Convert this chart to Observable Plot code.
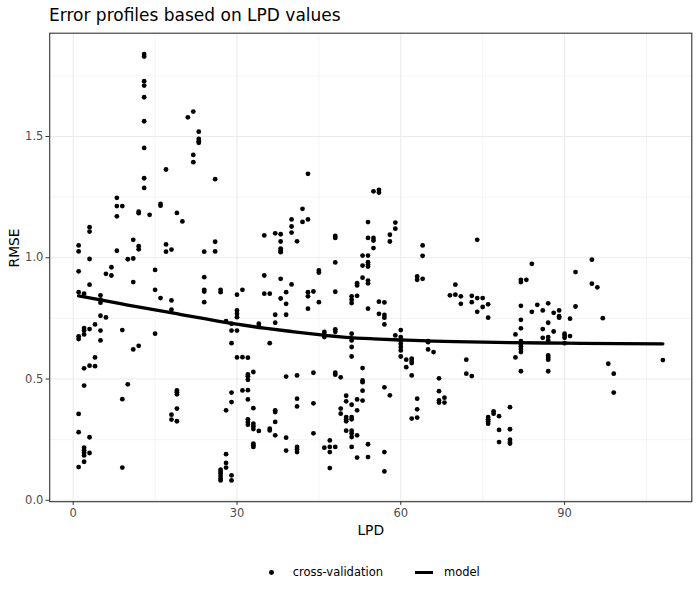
<!DOCTYPE html>
<html><head><meta charset="utf-8">
<script src="https://cdn.jsdelivr.net/npm/d3@7"></script>
<script src="https://cdn.jsdelivr.net/npm/@observablehq/plot@0.6"></script>
<style>
body{margin:0;background:#fff;font-family:"DejaVu Sans",sans-serif;}
#wrap{width:700px;height:600px;position:relative;overflow:hidden;background:#fff;}
#title{position:relative;height:32px;}
#title span{position:absolute;left:49px;top:7.3px;font-size:17px;line-height:17px;color:#000;white-space:nowrap;}
#chart svg{display:block;}
#legend{position:relative;height:50px;}
#legend .t{position:absolute;top:17.3px;font-size:11.5px;line-height:11.5px;color:#000;white-space:nowrap;}
#legend .dot{position:absolute;left:269.3px;top:19.9px;width:4.8px;height:4.8px;border-radius:50%;background:#000;}
#legend .ln{position:absolute;left:415px;top:20.7px;width:18.3px;height:3.2px;background:#000;}
</style></head><body>
<div id="wrap">
<div id="title"><span>Error profiles based on LPD values</span></div>
<div id="chart"></div>
<div id="legend"><div class="dot"></div><span class="t" style="left:292.7px">cross-validation</span><div class="ln"></div><span class="t" style="left:444px">model</span></div>
</div>
<script>
const cvLPD = [1,2,3,4,5,6,7,8,9,10,11,12,13,14,15,16,17,18,19,20,21,22,23,24,26,27,28,29,30,31,32,33,34,35,36,37,38,39,40,41,42,43,44,45,46,47,48,49,50,51,52,53,54,55,56,57,58,59,60,61,62,63,64,65,66,67,68,69,70,71,72,73,74,75,76,77,78,80,81,82,83,84,85,86,87,88,89,90,91,92,95,96,97,98,99,108];
const cvRMSE = [
[1.051,1.026,0.944,0.858,0.676,0.665,0.356,0.281,0.137],
[0.852,0.710,0.700,0.684,0.544,0.473,0.217,0.206,0.196,0.185,0.159],
[1.126,1.108,0.995,0.889,0.706,0.555,0.260,0.195],
[0.725,0.589,0.553],
[0.845,0.827,0.815,0.761,0.700,0.659],
[0.934,0.754],
[0.961,0.927],
[1.247,1.213,1.171,1.029],
[1.213,0.702,0.417,0.135],
[0.994,0.478],
[1.074,0.997,0.900,0.622],
[1.190,1.184,1.048,1.035,0.637],
[1.840,1.830,1.728,1.710,1.662,1.563,1.453,1.328,1.288],
[1.177],
[0.950,0.868,0.687],
[1.222,1.215,0.834],
[1.364,1.055,1.025],
[1.034,0.824,0.786,0.353,0.333],
[1.185,0.453,0.446,0.437,0.378,0.326],
[1.150],
[1.579],
[1.603,1.424,1.394],
[1.520,1.490,1.480,1.474],
[1.025,0.920,0.868,0.861,0.817],
[1.324,1.066,1.026],
[0.868,0.858,0.126,0.118,0.110,0.100,0.090,0.082],
[0.739,0.371,0.190,0.154,0.135],
[0.728,0.700,0.648,0.444,0.405,0.103,0.082],
[0.848,0.783,0.769,0.755,0.700,0.589],
[0.868,0.590,0.453],
[0.588,0.519,0.511,0.497,0.454,0.416,0.334,0.323,0.312],
[0.529,0.380,0.316,0.305,0.294,0.234,0.227,0.220],
[0.728,0.718,0.286],
[1.092,0.927,0.852],
[0.852,0.648,0.295,0.288],
[1.101,0.765,0.732,0.371,0.364,0.323,0.268],
[1.097,1.067,1.038,1.030,1.023,0.913,0.832],
[0.858,0.810,0.765,0.510,0.258,0.205],
[1.158,1.129,1.104,0.890],
[1.068,0.515,0.419,0.387,0.220,0.210,0.199],
[1.202,1.148],
[1.346,1.158,0.858,0.841,0.790],
[0.861,0.526,0.400,0.276],
[0.948,0.939,0.817],
[0.694,0.684,0.673,0.217],
[0.247,0.220,0.199,0.133],
[1.090,1.082,0.981,0.860,0.705,0.695,0.526,0.518,0.220],
[0.507,0.378,0.357],
[0.431,0.408,0.343,0.334,0.326,0.287],
[0.841,0.827,0.813,0.687,0.659,0.632,0.593,0.394,0.343,0.334,0.287,0.276,0.261,0.220],
[0.895,0.886,0.843,0.416,0.371,0.268,0.176],
[1.009,0.968,0.918,0.545,0.494,0.487,0.452,0.411],
[1.147,1.082,1.009,0.982,0.972,0.964,0.906,0.895,0.790,0.231,0.178],
[1.274,1.082,1.071,1.040],
[1.280,1.269,0.819,0.769],
[0.816,0.764,0.753,0.725,0.466,0.199,0.119],
[1.095,1.067,0.433],
[1.145,1.120,0.680],
[0.702,0.673,0.659,0.645,0.632,0.618,0.593],
[0.580,0.549],
[0.584,0.574,0.566,0.515,0.337],
[0.923,0.909,0.419,0.375,0.341],
[1.051,1.008,0.913],
[0.656,0.652,0.622],
[0.611],
[0.503,0.450,0.412,0.403],
[0.423,0.403],
[0.845],
[0.889,0.848],
[0.841,0.810],
[0.580,0.522],
[0.843,0.817,0.512],
[1.074,0.834,0.777],
[0.834,0.797],
[0.808,0.753,0.343,0.334,0.326,0.316],
[0.367,0.357],
[0.347,0.290,0.240],
[0.384,0.293,0.250,0.240,0.234],
[0.684,0.589],
[0.909,0.900,0.802,0.744,0.709,0.656,0.646,0.635,0.624,0.611,0.532],
[0.909],
[0.975,0.777],
[0.806],
[0.783,0.706,0.670],
[0.812,0.732,0.673,0.659,0.597,0.588,0.580,0.532],
[0.773,0.696],
[0.783,0.759,0.753],
[0.687,0.678,0.670,0.648],
[0.749,0.677],
[0.941,0.799],
[0.992,0.893],
[0.878],
[0.751],
[0.563],
[0.522,0.444],
[0.578]
];
const modelLPD  = [1,5,10,15,20,25,30,35,40,45,50,55,60,65,70,80,90,100,108];
const modelRMSE = [0.843,0.826,0.805,0.785,0.765,0.745,0.726,0.710,0.696,0.683,0.672,0.666,0.661,0.657,0.654,0.650,0.648,0.646,0.645];
const xTicks = [0,30,60,90];
const xMinor = [15,45,75,105];
const yTicks = [0,0.5,1,1.5];
const yMinor = [0.25,0.75,1.25,1.75];

const cv = cvLPD.flatMap((l, i) => cvRMSE[i].map(v => ({lpd: l, rmse: v})));
const model = modelLPD.map((l, i) => ({lpd: l, rmse: modelRMSE[i]}));

const grid = "#EBEBEB";
const chart = Plot.plot({
  width: 700,
  height: 518,
  marginLeft: 49.2,
  marginRight: 8.7,
  marginTop: 0.7,
  marginBottom: 48.8,
  style: {fontFamily: "DejaVu Sans", fontSize: "11.5px", background: "white", overflow: "visible"},
  x: {domain: [-4.3, 113.3]},
  y: {domain: [-0.0058, 1.926]},
  marks: [
    Plot.gridX(xMinor, {stroke: grid, strokeOpacity: 1, strokeWidth: 0.55}),
    Plot.gridY(yMinor, {stroke: grid, strokeOpacity: 1, strokeWidth: 0.55}),
    Plot.gridX(xTicks, {stroke: grid, strokeOpacity: 1, strokeWidth: 1.1}),
    Plot.gridY(yTicks, {stroke: grid, strokeOpacity: 1, strokeWidth: 1.1}),
    Plot.dot(cv, {x: "lpd", y: "rmse", r: 2.4, fill: "black", stroke: "none"}),
    Plot.line(model, {x: "lpd", y: "rmse", curve: "natural", stroke: "black", strokeWidth: 3.3}),
    Plot.frame({stroke: "#333333", strokeWidth: 1.1}),
    Plot.axisX(xTicks, {tickSize: 3.7, tickPadding: 3.5, stroke: "#333333", fill: "#4D4D4D", fontSize: 11.5, label: null, tickFormat: d => String(d)}),
    Plot.axisY(yTicks, {tickSize: 3.7, tickPadding: 2.6, stroke: "#333333", fill: "#4D4D4D", fontSize: 11.5, label: null, tickFormat: d3.format(".1f")}),
    Plot.text(["LPD"], {frameAnchor: "bottom", lineAnchor: "bottom", dy: 32.9, fontSize: 13.8, fill: "black"}),
    Plot.text(["RMSE"], {frameAnchor: "left", lineAnchor: "bottom", rotate: -90, dx: -30.5, fontSize: 13.8, fill: "black"})
  ]
});
document.getElementById("chart").appendChild(chart);
</script>
</body></html>
